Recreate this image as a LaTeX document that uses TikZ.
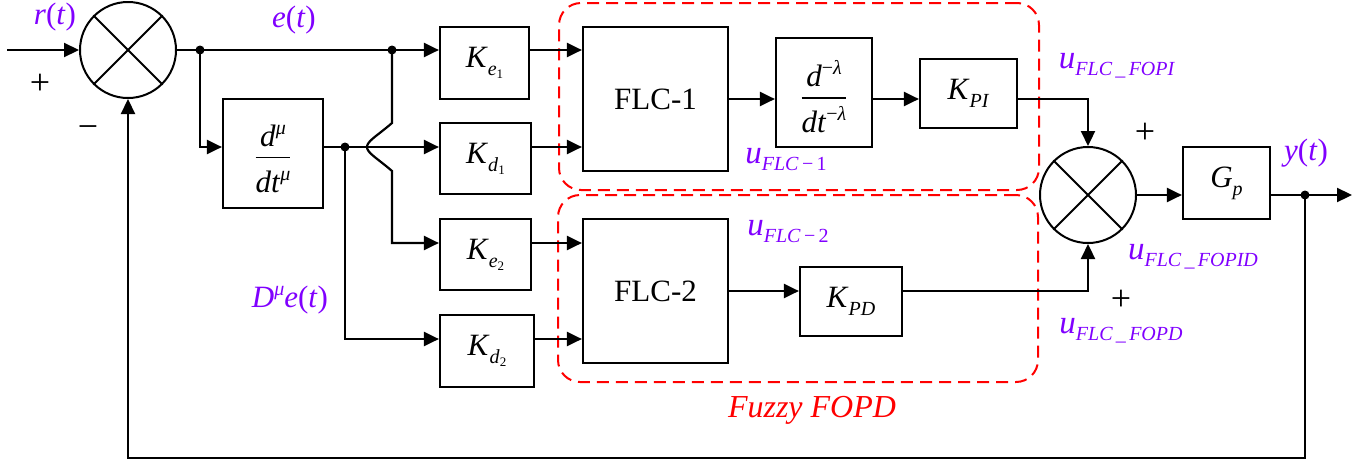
\documentclass[tikz,border=0pt]{standalone}
\usepackage{fontspec}
\setmainfont{Liberation Serif}
\usetikzlibrary{arrows.meta}
\definecolor{purp}{HTML}{8000FF}
\definecolor{fred}{HTML}{FF0000}
\newcommand{\bigf}{\fontsize{31}{36}\selectfont}
\newcommand{\uf}{\fontsize{33}{36}\selectfont}
\newcommand{\subf}{\fontsize{20}{24}\selectfont}
\newcommand{\ssubf}{\fontsize{13}{15}\selectfont}
\newcommand{\lowr}[1]{\raisebox{-8pt}{\subf #1}}
\newcommand{\lowu}[1]{\raisebox{-7pt}{\subf #1}}
\newcommand{\upr}[1]{\raisebox{12pt}{\subf #1}}
\setlength{\arrayrulewidth}{1.5pt}
\newcommand{\fracx}[2]{\begin{tabular}{@{}c@{}}#1\\\hline\rule{0pt}{34pt}#2\end{tabular}}
\begin{document}
\begin{tikzpicture}[x=1pt,y=-1pt,
  line width=2.2pt,
  box/.style 2 args={minimum width=#1pt, minimum height=#2pt},
  blk/.style={draw, line width=2.2pt, inner sep=0pt, font=\bigf},
  sumc/.style={draw, circle, line width=2pt, minimum size=96pt, inner sep=0pt},
  arr/.style={-{Triangle[length=15pt,width=14pt]}},
  lbl/.style={text=purp, font=\bigf, inner sep=0pt},
  sgn/.style={font=\fontsize{36}{40}\selectfont, inner sep=0pt},
  fz/.style={draw=fred, line width=2pt, dash pattern=on 12pt off 7pt, rounded corners=22pt, inner sep=0pt}
]
\useasboundingbox (0,0) rectangle (1367,464);

% fuzzy groups
\node[fz, box={480}{187}] (fuzA) at (799,96.5) {};
\node[fz, box={480}{187}] (fuzB) at (798,288.5) {};

% summing junctions
\node[sumc] (s1) at (128,50) {};
\draw[line width=2pt] (s1.45) -- (s1.225) (s1.135) -- (s1.315);
\node[sumc] (s2) at (1088,195) {};
\draw[line width=2pt] (s2.45) -- (s2.225) (s2.135) -- (s2.315);

% blocks
\node[blk, box={89}{72}] (ke1) at (484.5,63) {\textit{K}\lowr{\textit{e}\raisebox{-3pt}{\ssubf 1}}};
\node[blk, box={91}{71}] (kd1) at (485.5,158.5) {\textit{K}\lowr{\textit{d}\raisebox{-3pt}{\ssubf 1}}};
\node[blk, box={91}{71}] (ke2) at (485.5,254.5) {\textit{K}\lowr{\textit{e}\raisebox{-3pt}{\ssubf 2}}};
\node[blk, box={94}{72}] (kd2) at (487,351) {\textit{K}\lowr{\textit{d}\raisebox{-3pt}{\ssubf 2}}};
\node[blk, box={100}{109}] (dmu) at (273,153.5) {};
\node[inner sep=0pt, font=\bigf] (dmuT) at (273,162) {\fracx{\textit{d}\upr{\textit{μ}}}{\textit{dt}\upr{\textit{μ}}}};
\node[blk, box={145}{144}] (flc1) at (655.5,99) {FLC-1};
\node[blk, box={96}{109}] (dlam) at (824,92.5) {};
\node[inner sep=0pt, font=\bigf] (dlamT) at (824,102) {\fracx{\textit{d}\upr{−\textit{λ}}}{\textit{dt}\upr{−\textit{λ}}}};
\node[blk, box={97}{69}] (kpi) at (968.5,93.5) {\textit{K}\lowr{\textit{PI}}};
\node[blk, box={87}{72}] (gp) at (1226.5,183) {\textit{G}\lowr{\textit{p}}};
\node[blk, box={145}{144}] (flc2) at (655.5,291) {FLC-2};
\node[blk, box={102}{69}] (kpd) at (851,301.5) {\textit{K}\lowr{\textit{PD}}};

% coordinates
\coordinate (in) at (7,50);
\coordinate (j1) at (200,50);
\coordinate (j2) at (392,50);
\coordinate (r2) at (0,147);
\coordinate (j3) at (345,147);
\coordinate (h1) at (392,123);
\coordinate (hm) at (367,147);
\coordinate (h2) at (392,171);
\coordinate (r3) at (0,243);
\coordinate (r4) at (0,339);
\coordinate (j4) at (1305,195);
\coordinate (out) at (1352,195);
\coordinate (fb) at (1305,458);

% connectors
\draw[arr] (in) -- (s1.west);
\draw (s1.east) -- (j2);
\draw[arr] (j2) -- (ke1.west |- j2);
\draw[arr] (j1) |- (dmu.west |- r2);
\draw (dmu.east |- r2) -- (j3);
\draw[arr] (j3) -- (kd1.west |- r2);
\draw[arr] (j2) -- (h1) .. controls (377,136) and (367,141) .. (hm) .. controls (367,153) and (377,158) .. (h2) |- (ke2.west |- r3);
\draw[arr] (j3) |- (kd2.west |- r4);
\draw[arr] (ke1.east |- j2) -- (flc1.west |- j2);
\draw[arr] (kd1.east |- r2) -- (flc1.west |- r2);
\draw[arr] (ke2.east |- r3) -- (flc2.west |- r3);
\draw[arr] (kd2.east |- r4) -- (flc2.west |- r4);
\draw[arr] (flc1.east) -- (dlam.west |- flc1.east);
\draw[arr] (dlam.east |- flc1.east) -- (kpi.west |- flc1.east);
\draw[arr] (kpi.east |- flc1.east) -| (s2.north);
\draw[arr] (flc2.east) -- (kpd.west |- flc2.east);
\draw[arr] (kpd.east |- flc2.east) -| (s2.south);
\draw[arr] (s2.east) -- (gp.west |- s2.east);
\draw[arr] (gp.east |- s2.east) -- (out);
\draw[arr] (j4) -- (fb) -| (s1.south);

% junction dots
\fill (j1) circle (4.5);
\fill (j2) circle (4.5);
\fill (j3) circle (4.5);
\fill (j4) circle (4.5);

% labels
\node[lbl] (lr) at (55,17) {\textit{r}(\textit{t})};
\node[lbl] (le) at (294,20) {\textit{e}(\textit{t})};
\node[lbl] (lde) at (290,300) {\textit{D}\upr{\textit{μ}}\textit{e}(\textit{t})};
\node[lbl] (lu1) at (786,160) {{\uf\textit{u}}\lowu{\textit{FLC}\,−\,1}};
\node[lbl] (lu2) at (788,232) {{\uf\textit{u}}\lowu{\textit{FLC}\,−\,2}};
\node[lbl] (lupi) at (1117,66) {{\uf\textit{u}}\lowu{\textit{FLC\,\_\,FOPI}}};
\node[lbl] (lupid) at (1193,257) {{\uf\textit{u}}\lowu{\textit{FLC\,\_\,FOPID}}};
\node[lbl] (lupd) at (1121,331) {{\uf\textit{u}}\lowu{\textit{FLC\,\_\,FOPD}}};
\node[lbl] (ly) at (1306,153) {\textit{y}(\textit{t})};
\node[text=fred, font=\fontsize{32}{36}\selectfont\itshape, inner sep=0pt] (lfz) at (812,410) {Fuzzy FOPD};

% signs
\node[sgn] (p1) at (40,84) {+};
\node[sgn] (m1) at (88,132) {−};
\node[sgn] (p2) at (1145,133) {+};
\node[sgn] (p3) at (1121,300) {+};
\end{tikzpicture}
\end{document}
